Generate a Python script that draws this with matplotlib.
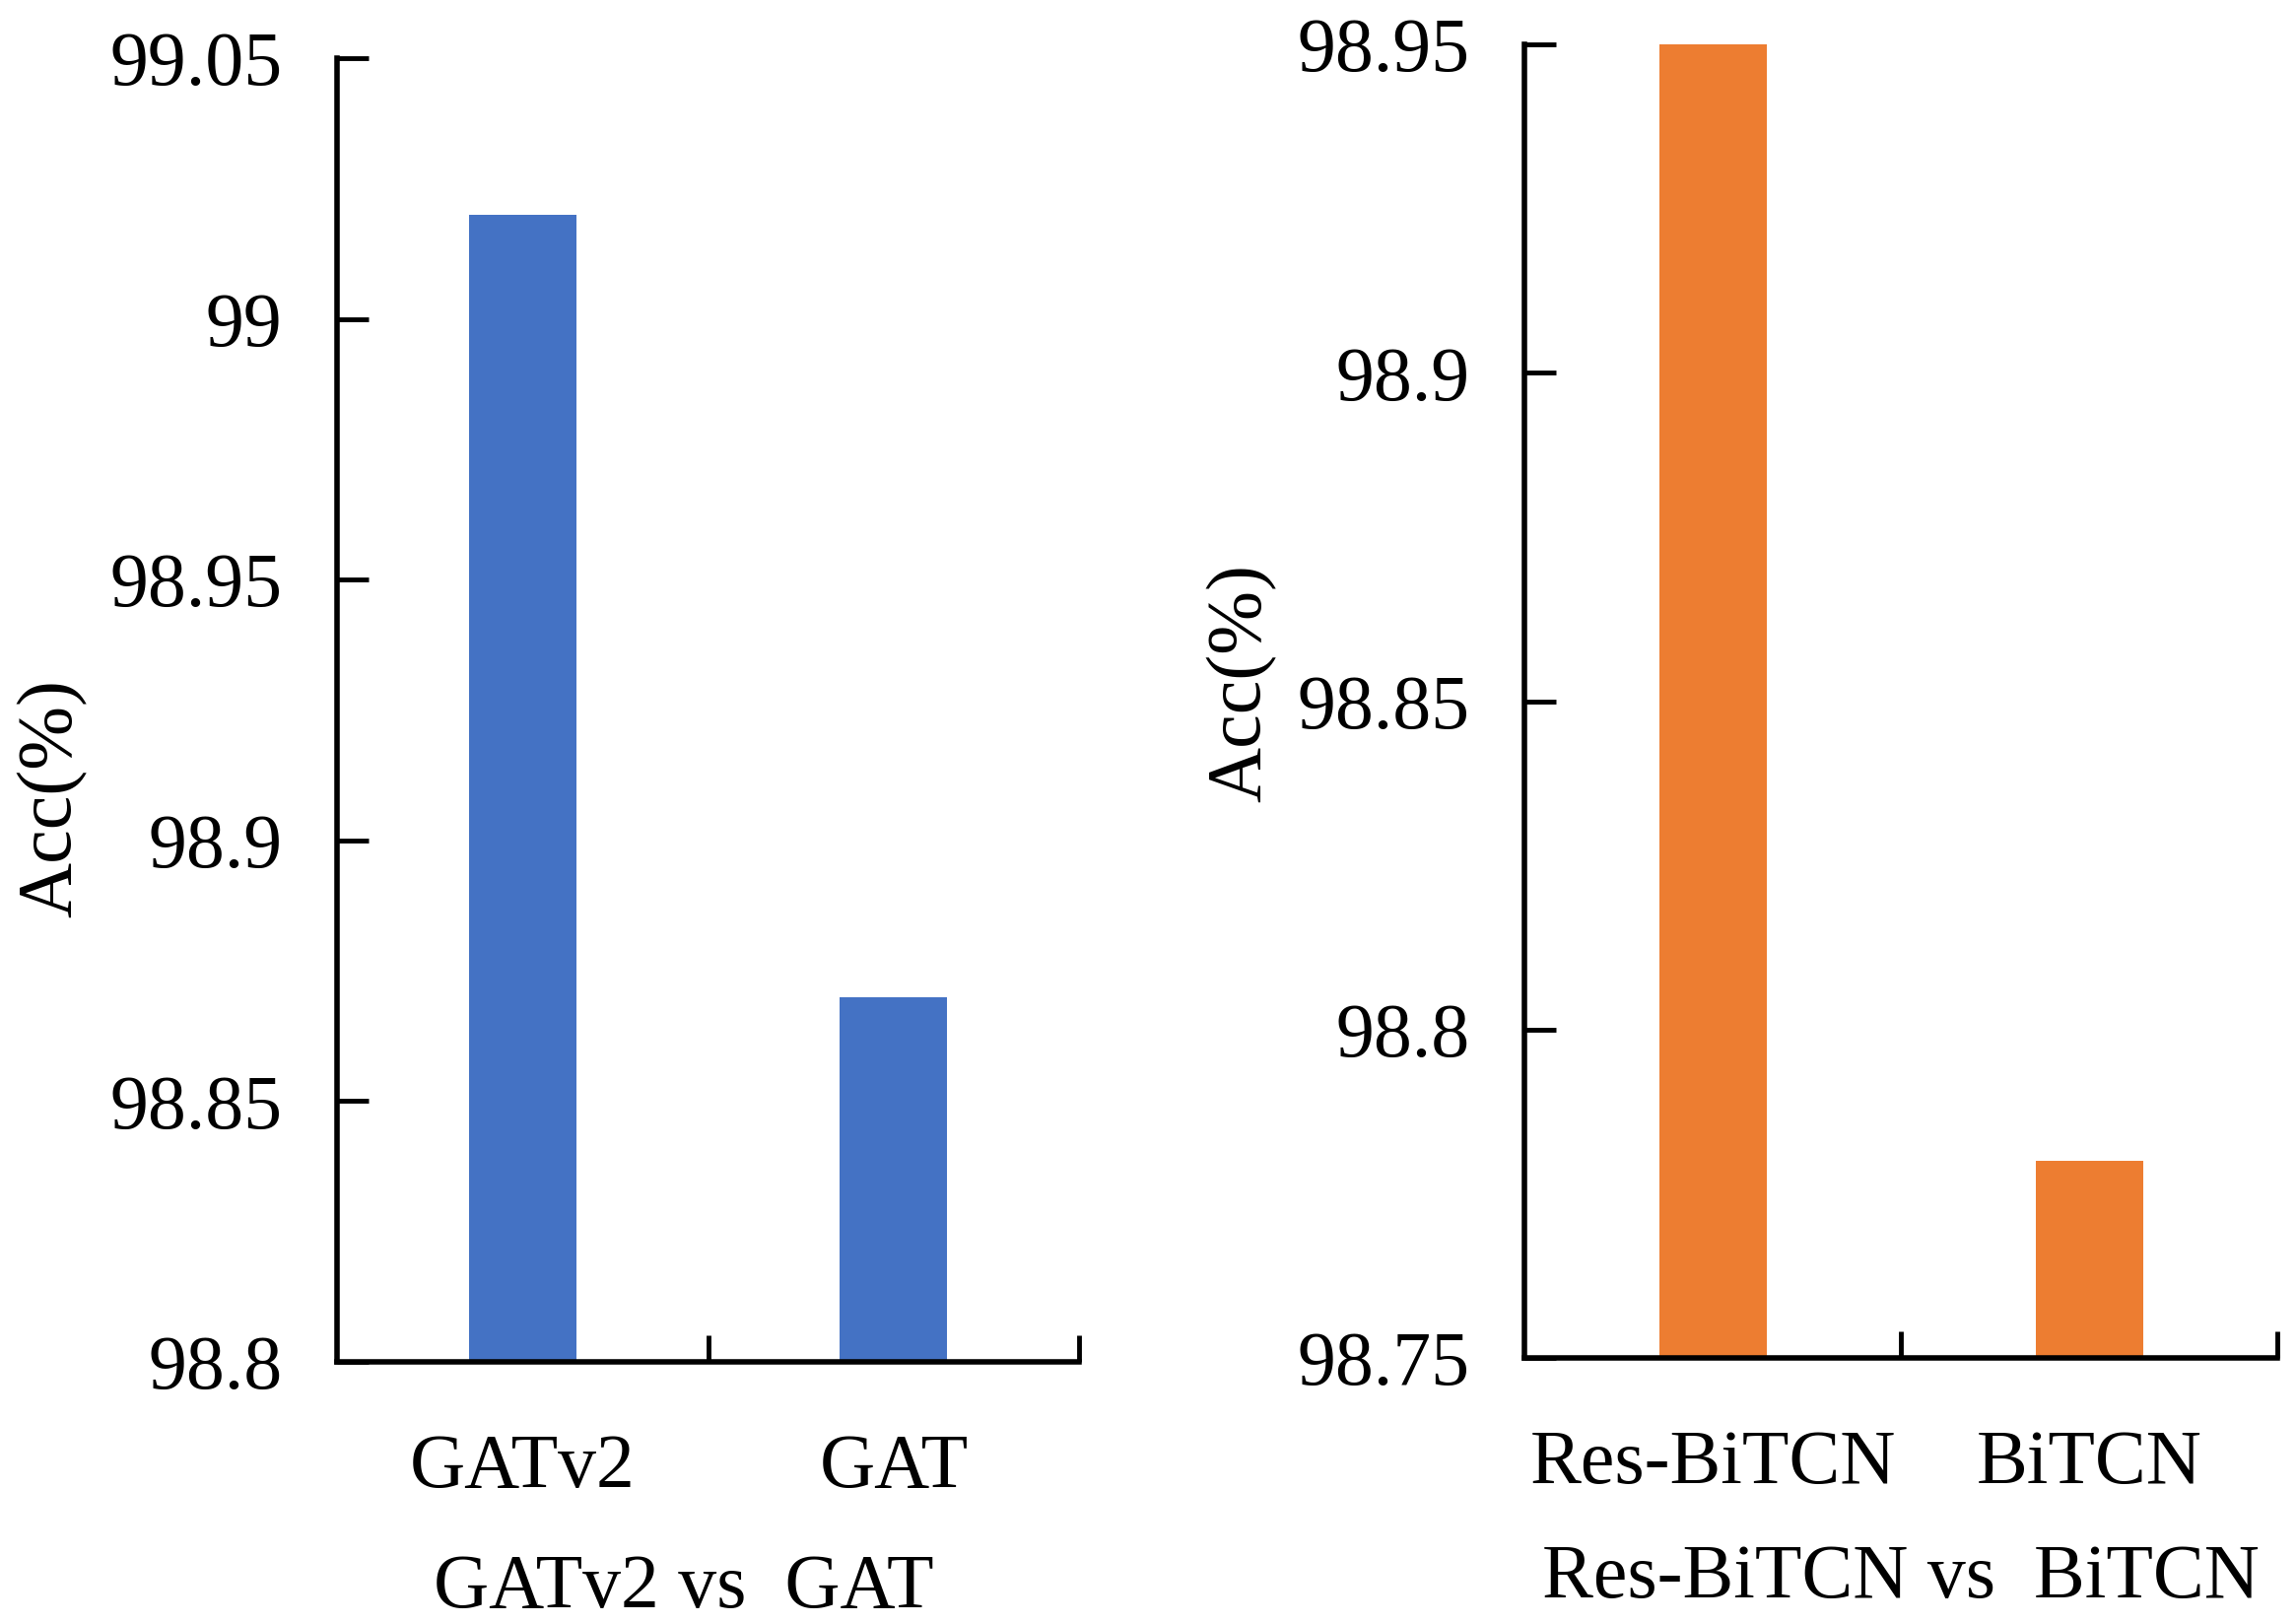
import numpy as np
import matplotlib.pyplot as plt

plt.rcParams['font.family'] = ['Liberation Serif', 'DejaVu Serif']

## Data
gat_models = ["GATv2", "GAT"]
gat_acc = [99.02, 98.87]
gat_ticks = [98.8, 98.85, 98.9, 98.95, 99.0, 99.05]
gat_tick_labels = ["98.8", "98.85", "98.9", "98.95", "99", "99.05"]

tcn_models = ["Res-BiTCN", "BiTCN"]
tcn_acc = [98.95, 98.78]
tcn_ticks = [98.75, 98.8, 98.85, 98.9, 98.95]
tcn_tick_labels = ["98.75", "98.8", "98.85", "98.9", "98.95"]

FS = 56
LW = 4.0


def style_axes(ax, ticks, tick_labels, names):
    for side in ("top", "right"):
        ax.spines[side].set_visible(False)
    for side in ("left", "bottom"):
        ax.spines[side].set_linewidth(LW)
        ax.spines[side].set_capstyle("projecting")
    ax.set_xlim(-0.5, len(names) - 0.5)
    ax.set_ylim(ticks[0], ticks[-1])
    ax.set_yticks(ticks)
    ax.set_yticklabels(tick_labels)
    ax.set_xticks(np.arange(len(names)))
    ax.set_xticklabels(names)
    ax.set_xticks(np.arange(len(names)) + 0.5, minor=True)
    ax.tick_params(axis="y", direction="in", length=23, width=3.5, pad=40, labelsize=FS)
    ax.tick_params(axis="x", which="major", length=0, pad=52, labelsize=FS)
    ax.tick_params(axis="x", which="minor", direction="in", length=19.5, width=3.5)


def main():
    fig = plt.figure(figsize=(23.3, 16.47), dpi=100)

    # Left panel
    ax1 = fig.add_axes([0.1468, 0.1609, 0.3232, 0.8033])
    ax1.bar(np.arange(len(gat_models)), gat_acc, width=0.29, color="#4472C4")
    style_axes(ax1, gat_ticks, gat_tick_labels, gat_models)
    ax1.set_ylabel("Acc(%)", fontsize=FS, va="center", ha="center")
    ax1.yaxis.set_label_coords(-0.384, 0.432)
    ax1.set_xlabel("GATv2 vs  GAT", fontsize=FS, va="top")
    ax1.xaxis.set_label_coords(0.4675, -0.147)

    # Right panel
    ax2 = fig.add_axes([0.664, 0.1633, 0.3279, 0.8094])
    ax2.bar(np.arange(len(tcn_models)), tcn_acc, width=0.285, color="#ED7D31")
    style_axes(ax2, tcn_ticks, tcn_tick_labels, tcn_models)
    ax2.set_ylabel("Acc(%)", fontsize=FS, va="center", ha="center")
    ax2.yaxis.set_label_coords(-0.376, 0.514)
    ax2.set_xlabel("Res-BiTCN vs  BiTCN", fontsize=FS, va="top")
    ax2.xaxis.set_label_coords(0.5, -0.141)

    fig.savefig("out.png", dpi=100)


if __name__ == "__main__":
    main()
